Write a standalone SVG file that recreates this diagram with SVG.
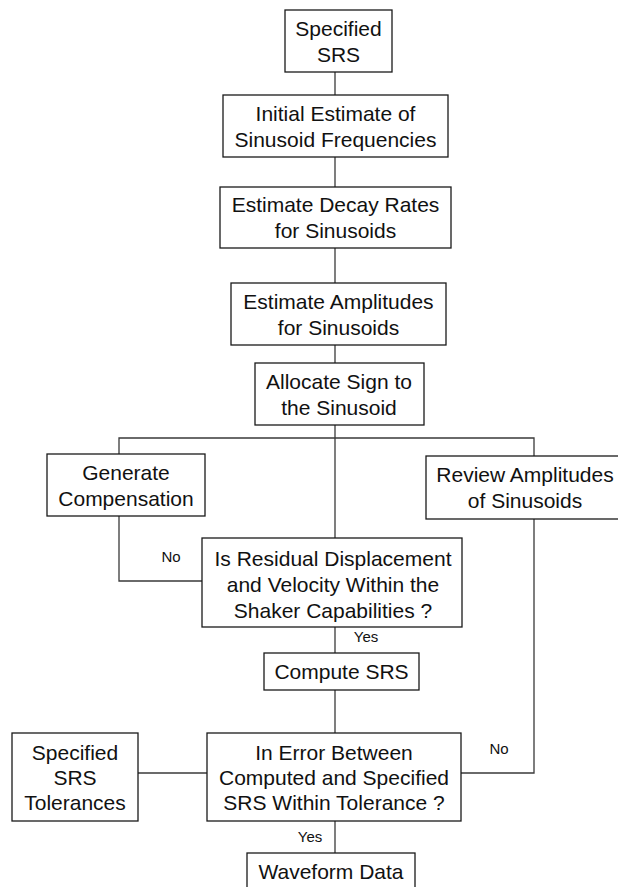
<svg xmlns="http://www.w3.org/2000/svg" width="618" height="887" viewBox="0 0 618 887">
  <style>
    .box { fill: #ffffff; stroke: #1a1a1a; stroke-width: 1.3; }
    .lbl { font-family: "Liberation Sans", Arial, sans-serif; font-size: 21px; fill: #111111; text-anchor: middle; }
    .tag { font-family: "Liberation Sans", Arial, sans-serif; font-size: 15px; fill: #111111; text-anchor: middle; }
    .wire { fill: none; stroke: #3a3a3a; stroke-width: 1.3; }
  </style>
  <rect width="618" height="887" fill="#ffffff"/>

  <!-- connectors -->
  <g id="connectors">
    <line class="wire" x1="335" y1="72" x2="335" y2="95"/>
    <line class="wire" x1="335" y1="157" x2="335" y2="187"/>
    <line class="wire" x1="335" y1="248" x2="335" y2="283"/>
    <line class="wire" x1="335" y1="345" x2="335" y2="363"/>
    <line class="wire" x1="335" y1="425" x2="335" y2="538"/>
    <polyline class="wire" points="119,454 119,438 534,438 534,456"/>
    <polyline class="wire" points="119,516 119,581 207,581"/>
    <polyline class="wire" points="534,519 534,773 461,773"/>
    <line class="wire" x1="335" y1="627" x2="335" y2="653"/>
    <line class="wire" x1="335" y1="690" x2="335" y2="733"/>
    <line class="wire" x1="138" y1="773" x2="207" y2="773"/>
    <line class="wire" x1="335" y1="821" x2="335" y2="853"/>
    <text class="tag" x="171" y="562">No</text>
    <text class="tag" x="366" y="642">Yes</text>
    <text class="tag" x="499" y="754">No</text>
    <text class="tag" x="310" y="841.5">Yes</text>
  </g>

  <g id="specified-srs">
    <rect class="box" x="285" y="10" width="107" height="62"/>
    <text class="lbl" x="338.5" y="35.5">Specified</text>
    <text class="lbl" x="338.5" y="61.5">SRS</text>
  </g>

  <g id="initial-estimate">
    <rect class="box" x="223" y="95" width="225" height="62"/>
    <text class="lbl" x="335.5" y="120.5">Initial Estimate of</text>
    <text class="lbl" x="335.5" y="146.5">Sinusoid Frequencies</text>
  </g>

  <g id="decay-rates">
    <rect class="box" x="220" y="187" width="231" height="61"/>
    <text class="lbl" x="335.5" y="212">Estimate Decay Rates</text>
    <text class="lbl" x="335.5" y="238">for Sinusoids</text>
  </g>

  <g id="amplitudes">
    <rect class="box" x="231" y="283" width="215" height="62"/>
    <text class="lbl" x="338.5" y="308.5">Estimate Amplitudes</text>
    <text class="lbl" x="338.5" y="334.5">for Sinusoids</text>
  </g>

  <g id="allocate-sign">
    <rect class="box" x="255" y="363" width="169" height="62"/>
    <text class="lbl" x="339" y="388.5">Allocate Sign to</text>
    <text class="lbl" x="339" y="414.5">the Sinusoid</text>
  </g>

  <g id="generate-compensation">
    <rect class="box" x="47" y="454" width="158" height="62"/>
    <text class="lbl" x="126" y="479.5">Generate</text>
    <text class="lbl" x="126" y="505.5">Compensation</text>
  </g>

  <g id="review-amplitudes">
    <rect class="box" x="426" y="456" width="196" height="63"/>
    <text class="lbl" x="525" y="482">Review Amplitudes</text>
    <text class="lbl" x="525" y="508">of Sinusoids</text>
  </g>

  <g id="residual-check">
    <rect class="box" x="202" y="538" width="260" height="89"/>
    <text class="lbl" x="333" y="566">Is Residual Displacement</text>
    <text class="lbl" x="333" y="592">and Velocity Within the</text>
    <text class="lbl" x="333" y="618">Shaker Capabilities ?</text>
  </g>

  <g id="compute-srs">
    <rect class="box" x="264" y="653" width="155" height="37"/>
    <text class="lbl" x="341.5" y="679">Compute SRS</text>
  </g>

  <g id="srs-tolerances">
    <rect class="box" x="12" y="733" width="126" height="88"/>
    <text class="lbl" x="75" y="760">Specified</text>
    <text class="lbl" x="75" y="785">SRS</text>
    <text class="lbl" x="75" y="810">Tolerances</text>
  </g>

  <g id="error-check">
    <rect class="box" x="207" y="733" width="254" height="88"/>
    <text class="lbl" x="334" y="760">In Error Between</text>
    <text class="lbl" x="334" y="785">Computed and Specified</text>
    <text class="lbl" x="334" y="810">SRS Within Tolerance ?</text>
  </g>

  <g id="waveform-data">
    <rect class="box" x="247" y="853" width="168" height="50"/>
    <text class="lbl" x="331" y="879">Waveform Data</text>
  </g>
</svg>
